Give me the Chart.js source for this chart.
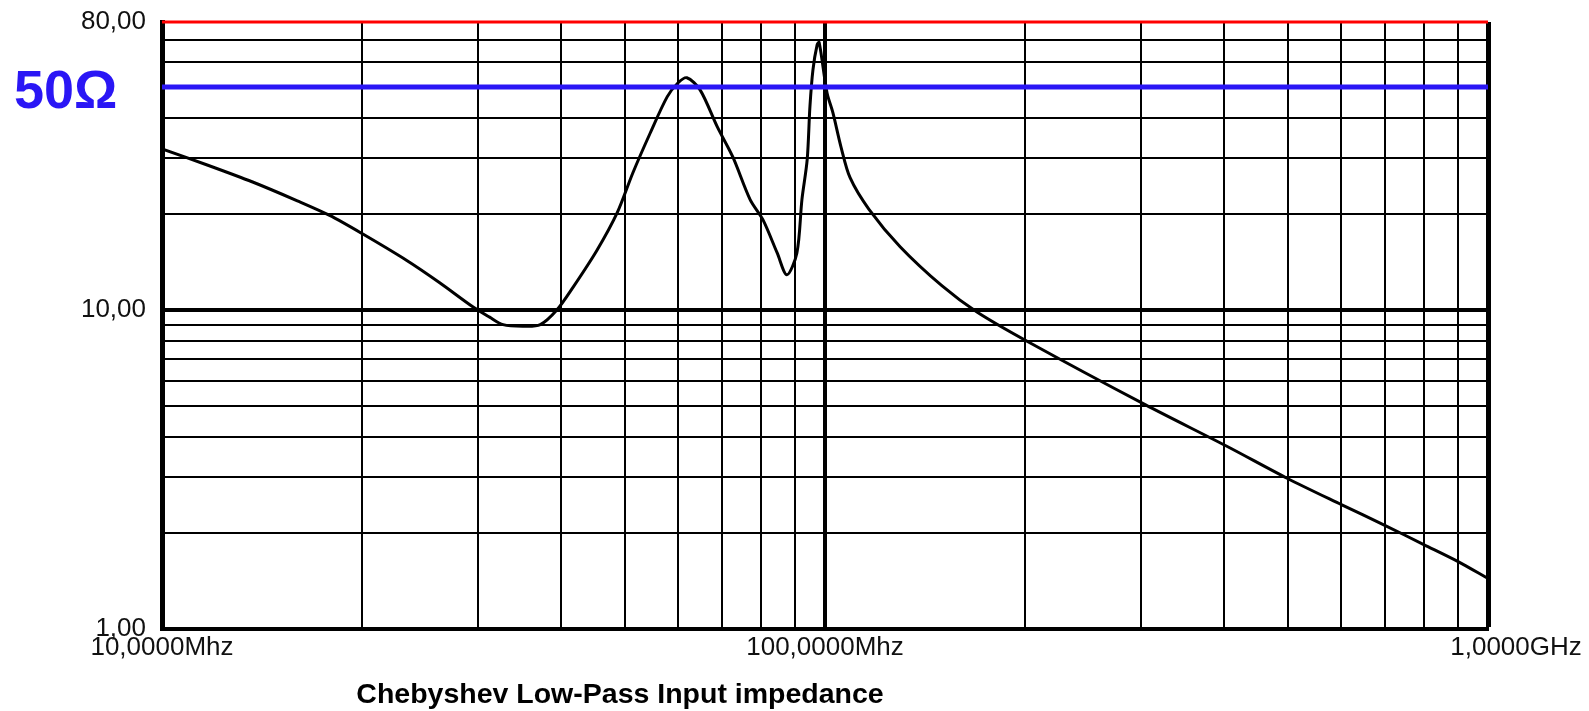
<!DOCTYPE html>
<html>
<head>
<meta charset="utf-8">
<script src="https://cdn.jsdelivr.net/npm/chart.js@4.4.1/dist/chart.umd.min.js"></script>
<style>
html,body{margin:0;padding:0;background:#fff;}
#wrap{width:1589px;height:711px;position:relative;}
</style>
</head>
<body>
<div id="wrap"><canvas id="c" width="1589" height="711"></canvas></div>
<script>
// ---- data ----
const freqMHz = [10, 11.7, 13.7, 16.0, 17.9, 20.0, 23.4, 26.2, 29.5, 31.2, 32.7, 35.0, 37.2, 39.4, 41.7, 45.3, 48.6, 51.3, 54.5, 57.8, 60.0, 61.9, 64.8, 68.8, 72.6, 77.1, 80.6, 84.7, 87.6, 90.7, 92.3, 94.0, 94.9, 95.9, 97.3, 98.0, 100.7, 102.8, 105.7, 109.1, 116.5, 129.8, 150.2, 169.5, 202.7, 304, 403.7, 497.6, 602, 700, 800, 900, 1000];
const impedanceOhm = [32.0, 28.5, 25.2, 22.0, 19.8, 17.4, 14.3, 12.2, 10.2, 9.5, 9.0, 8.9, 9.0, 10.0, 11.8, 15.4, 20.2, 26.9, 35.9, 46.6, 51.5, 53.5, 49.0, 37.5, 30.2, 22.2, 19.2, 15.1, 12.9, 15.1, 22.2, 29.6, 43.4, 56.6, 67.8, 69.0, 48.0, 41.5, 32.5, 26.0, 20.7, 15.8, 11.9, 9.86, 7.94, 5.05, 3.74, 2.97, 2.45, 2.11, 1.84, 1.63, 1.44];

const xGridMHz = [10,20,30,40,50,60,70,80,90,100,200,300,400,500,600,700,800,900,1000];
const yGridOhm = [1,2,3,4,5,6,7,8,9,10,20,30,40,50,60,70,80];
const xLabelValues = [10, 100, 1000];
const xLabelTexts = ['10,0000Mhz', '100,0000Mhz', '1,0000GHz'];
const yLabelValues = [1, 10, 80];
const yLabelTexts = ['1,00', '10,00', '80,00'];
const refLevelOhm = 50;
const refLevelText = '50\u03A9';
const topLevelOhm = 80;
const chartTitle = 'Chebyshev Low-Pass Input impedance';

const curve = freqMHz.map((f, i) => ({x: f, y: impedanceOhm[i]}));
const refLine = [{x: xGridMHz[0], y: refLevelOhm}, {x: xGridMHz[xGridMHz.length-1], y: refLevelOhm}];
const topLine = [{x: xGridMHz[0], y: topLevelOhm}, {x: xGridMHz[xGridMHz.length-1], y: topLevelOhm}];

const textPlugin = {
  id: 'texts',
  beforeDraw(chart) {
    const sx = chart.scales.x;
    const items = sx.getLabelItems(chart.chartArea);
    if (items.length) {
      const last = items[items.length - 1];
      if (!last._shifted && last.label) { last.options.translation[0] += 28; last._shifted = true; }
    }
  },
  afterDraw(chart) {
    const ctx = chart.ctx;
    ctx.save();
    ctx.fillStyle = '#000';
    ctx.font = 'bold 28.5px "Liberation Sans", Arial, sans-serif';
    ctx.textAlign = 'center';
    ctx.textBaseline = 'alphabetic';
    ctx.fillText(chartTitle, 620, 703);
    ctx.fillStyle = 'rgb(42,22,245)';
    ctx.font = 'bold 54px "Liberation Sans", Arial, sans-serif';
    ctx.textAlign = 'left';
    ctx.fillText(refLevelText, 14, 108);
    ctx.restore();
  }
};

new Chart(document.getElementById('c'), {
  type: 'line',
  data: {
    datasets: [
      {label: 'top', data: topLine, borderColor: '#ff0000', borderWidth: 3, pointRadius: 0, clip: false, order: 0},
      {label: 'ref', data: refLine, borderColor: 'rgb(42,22,245)', borderWidth: 5, pointRadius: 0, order: 1},
      {label: 'Zin', data: curve, borderColor: '#000', borderWidth: 3, pointRadius: 0, tension: 0.3, order: 2}
    ]
  },
  options: {
    responsive: false,
    animation: false,
    events: [],
    layout: {padding: {top: 22, right: 101, left: 0, bottom: 0}},
    plugins: {legend: {display: false}, tooltip: {enabled: false}, title: {display: false}},
    scales: {
      x: {
        type: 'logarithmic',
        min: 10, max: 1000,
        afterBuildTicks: s => { s.ticks = xGridMHz.map(v => ({value: v})); },
        afterFit: s => { s.height = 82; s.paddingLeft = 0; s.paddingRight = 0; },
        border: {display: true, color: '#000', width: 4},
        grid: {
          drawTicks: false,
          color: '#000',
          lineWidth: c => (c.tick && c.tick.value === 100) ? 4 : (c.tick && c.tick.value === 1000 ? 5 : 2)
        },
        ticks: {
          autoSkip: false, maxRotation: 0, padding: 3,
          color: '#111',
          font: {family: '"Liberation Sans", Arial, sans-serif', size: 26},
          callback: v => { const i = xLabelValues.indexOf(v); return i >= 0 ? xLabelTexts[i] : ''; }
        }
      },
      y: {
        type: 'logarithmic',
        min: 1, max: 80,
        afterBuildTicks: s => { s.ticks = yGridOhm.map(v => ({value: v})); },
        afterFit: s => { s.width = 162; s.paddingTop = 0; s.paddingBottom = 0; },
        border: {display: true, color: '#000', width: 5},
        grid: {
          drawTicks: false,
          color: '#000',
          lineWidth: c => (c.tick && c.tick.value === 10) ? 4 : 2
        },
        ticks: {
          autoSkip: false, padding: 16,
          color: '#111',
          font: {family: '"Liberation Sans", Arial, sans-serif', size: 26},
          callback: v => { const i = yLabelValues.indexOf(v); return i >= 0 ? yLabelTexts[i] : ''; }
        }
      }
    }
  },
  plugins: [textPlugin]
});
</script>
</body>
</html>
